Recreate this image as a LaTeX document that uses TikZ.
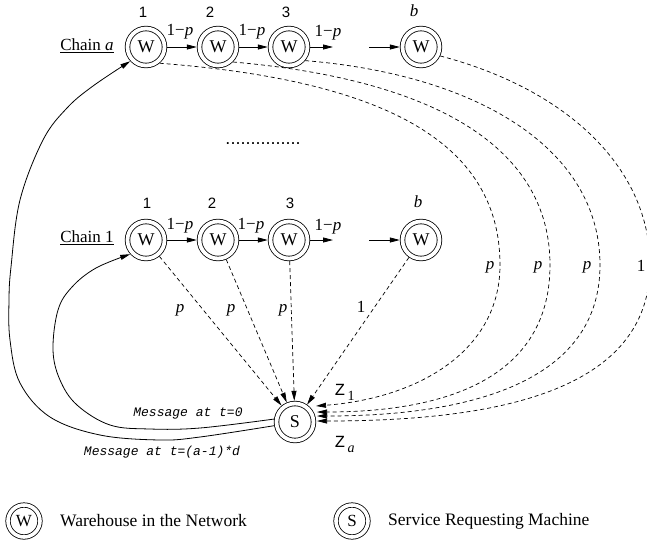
\documentclass[tikz,border=0pt]{standalone}
\usepackage{fontspec}
\setmainfont{Liberation Serif}
\setsansfont{Liberation Sans}
\setmonofont{Liberation Mono}
\usetikzlibrary{arrows.meta}

\begin{document}
\begin{tikzpicture}[x=1pt,y=-1pt,
  txt/.style={inner sep=0pt, font=\fontsize{17}{20}\selectfont},
  keytxt/.style={inner sep=0pt, anchor=west, font=\fontsize{17.5}{20}\selectfont},
  num/.style={inner sep=0pt, font=\sffamily\fontsize{15}{18}\selectfont},
  msg/.style={inner sep=0pt, font=\ttfamily\itshape\fontsize{13}{15}\selectfont},
  zed/.style={inner sep=0pt, font=\ttfamily\fontsize{17}{20}\selectfont},
  sub/.style={inner sep=0pt, font=\fontsize{14}{16}\selectfont},
  ring/.style={circle, draw, line width=0.8pt, double, double distance=3.8pt,
               minimum size=37pt, inner sep=0pt, outer sep=2.7pt,
               font=\fontsize{18}{20}\selectfont},
  keyring/.style={circle, draw, line width=0.8pt, double, double distance=3.6pt,
                  minimum size=32pt, inner sep=0pt, outer sep=2.6pt,
                  font=\fontsize{17}{20}\selectfont},
  tip/.style={-{Triangle[length=10pt,width=5pt]}},
  flow/.style={line width=0.8pt, tip},
  prob/.style={line width=0.7pt, dash pattern=on 4pt off 3pt, tip}]

\path[use as bounding box] (0,0) rectangle (647,547);
\clip (0,0) rectangle (647,547);

% ---- chain a ----
\node[ring] (A1) at (146,47) {W};
\node[ring] (A2) at (218,47) {W};
\node[ring] (A3) at (289,47) {W};
\node[ring] (Ab) at (421,47) {W};
\node[txt] (la) at (87,46) {\underline{Chain \textit{a}}};
\node[num] (na1) at (143,12) {1};
\node[num] (na2) at (210,12) {2};
\node[num] (na3) at (286,12) {3};
\node[txt] (nab) at (414,11) {\textit{b}};
\coordinate (Aout) at (333,47);
\coordinate (Ain) at (369,47);
\draw[flow] (A1) -- (A2);
\draw[flow] (A2) -- (A3);
\draw[flow] (A3) -- (Aout);
\draw[flow] (Ain) -- (Ab);
\node[txt] (qa1) at (180,32) {1−\textit{p}};
\node[txt] (qa2) at (252,32) {1−\textit{p}};
\node[txt] (qa3) at (328,33) {1−\textit{p}};

% ---- gap between the chains ----
\node[inner sep=0pt, font=\sffamily\fontsize{18}{20}\selectfont] (dots) at (263,144) {...............};

% ---- chain 1 ----
\node[ring] (B1) at (146,240) {W};
\node[ring] (B2) at (218,240) {W};
\node[ring] (B3) at (289,240) {W};
\node[ring] (Bb) at (421,240) {W};
\node[txt] (lb) at (87,238) {\underline{Chain 1}};
\node[num] (nb1) at (147,203) {1};
\node[num] (nb2) at (212,203) {2};
\node[num] (nb3) at (290,203) {3};
\node[txt] (nbb) at (418,202) {\textit{b}};
\coordinate (Bout) at (333,240);
\coordinate (Bin) at (369,240);
\draw[flow] (B1) -- (B2);
\draw[flow] (B2) -- (B3);
\draw[flow] (B3) -- (Bout);
\draw[flow] (Bin) -- (Bb);
\node[txt] (qb1) at (180,226) {1−\textit{p}};
\node[txt] (qb2) at (251,226) {1−\textit{p}};
\node[txt] (qb3) at (328,227) {1−\textit{p}};

% ---- service requesting machine ----
\node[ring] (S) at (295,422) {S};

% chain 1 straight to the machine
\draw[prob] (B1) -- (S);
\draw[prob] (B2) -- (S);
\draw[prob] (B3) -- (S);
\draw[prob] (Bb) -- (S);
\node[txt] (pb1) at (180,310) {\textit{p}};
\node[txt] (pb2) at (231,310) {\textit{p}};
\node[txt] (pb3) at (283,310) {\textit{p}};
\node[txt] (pbb) at (361,307) {1};

% chain a sweeping round to the machine
\coordinate (e1) at (316,406);
\coordinate (e2) at (317,412);
\coordinate (e3) at (317,416);
\coordinate (e4) at (317,421);
\draw[prob] (A1.-50) .. controls (380,80) and (500,140) .. (500,265)
                     .. controls (500,350) and (420,398) .. (e1);
\draw[prob] (A2.-45) .. controls (440,80) and (550,150) .. (550,265)
                     .. controls (550,370) and (460,412) .. (e2);
\draw[prob] (A3.-40) .. controls (480,75) and (600,150) .. (600,265)
                     .. controls (600,382) and (470,416) .. (e3);
\draw[prob] (Ab.-25) .. controls (570,90) and (650,170) .. (650,265)
                     .. controls (650,390) and (500,421) .. (e4);
\node[txt] (pa1) at (490,267) {\textit{p}};
\node[txt] (pa2) at (538,267) {\textit{p}};
\node[txt] (pa3) at (587,267) {\textit{p}};
\node[txt] (pab) at (641,266) {1};

\node[zed] (z1) at (340,390) {Z};
\node[sub] (z1s) at (351,396) {1};
\node[zed] (za) at (340,442) {Z};
\node[sub] (zas) at (351,449) {\textit{a}};

% messages sent back from the machine
\draw[flow] plot[smooth, tension=0.6] coordinates {(S.172) (200,428) (150,429) (110,425)
  (77,405) (60,380) (53,350) (58,310) (72,287) (96,268) (B1.222)};
\draw[flow] plot[smooth, tension=0.6] coordinates {(S.190) (200,437) (160,440) (100,435)
  (50,417) (20,383) (10,340) (9,300) (11,267) (20,200) (43,140) (67,108) (93,86) (A1.222)};
\node[msg] (m0) at (188,413) {Message at t=0};
\node[msg] (m1) at (162,452) {Message at t=(a-1)*d};

% ---- key ----
\node[keyring] (kw) at (24,521) {W};
\node[keytxt] (kwt) at (60,521) {Warehouse in the Network};
\node[keyring] (ks) at (352,521) {S};
\node[keytxt] (kst) at (388,521) {Service Requesting Machine};
\end{tikzpicture}
\end{document}
